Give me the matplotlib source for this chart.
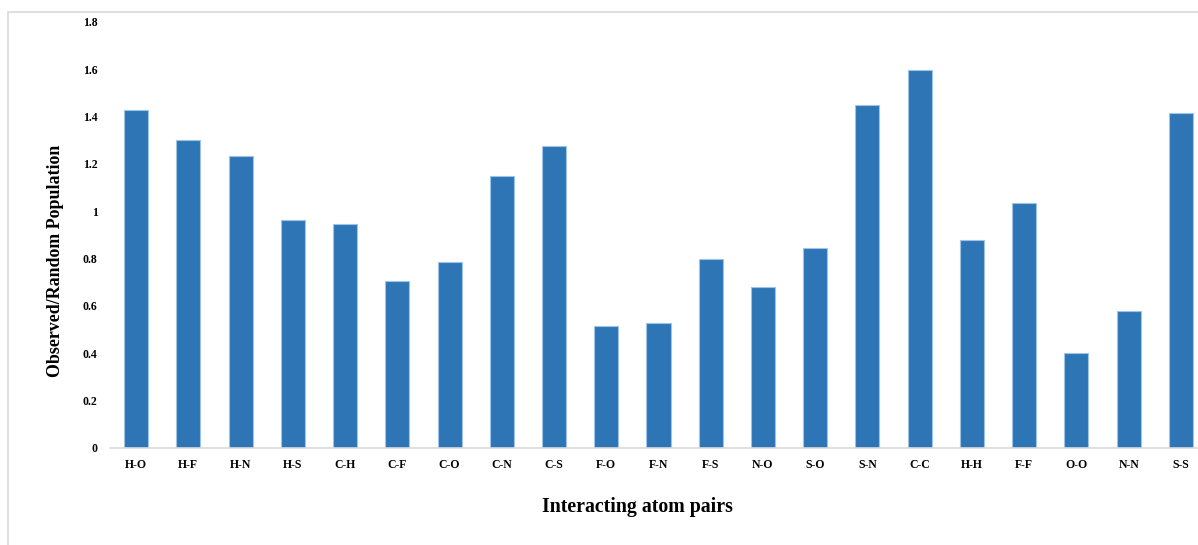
import matplotlib
matplotlib.use("Agg")
import matplotlib.pyplot as plt
from matplotlib.patches import Rectangle

pairs = ["H-O", "H-F", "H-N", "H-S", "C-H", "C-F", "C-O", "C-N", "C-S", "F-O", "F-N",
         "F-S", "N-O", "S-O", "S-N", "C-C", "H-H", "F-F", "O-O", "N-N", "S-S"]
ratios = [1.43, 1.30, 1.235, 0.965, 0.948, 0.706, 0.786, 1.15, 1.277, 0.517, 0.528,
          0.80, 0.682, 0.843, 1.45, 1.598, 0.88, 1.036, 0.403, 0.58, 1.416]
yticks = [0, 0.2, 0.4, 0.6, 0.8, 1, 1.2, 1.4, 1.6, 1.8]
ytick_labels = ["0", "0.2", "0.4", "0.6", "0.8", "1", "1.2", "1.4", "1.6", "1.8"]

plt.rcParams["font.family"] = ["Liberation Serif", "DejaVu Serif"]
plt.rcParams["font.weight"] = "bold"

W, H = 1198, 545
fig = plt.figure(figsize=(W / 100, H / 100), dpi=100)

# outer chart-area frame
fig.patches.append(Rectangle((8 / W, -0.1), 1.2, (H - 12) / H + 0.1,
                             transform=fig.transFigure, fill=False,
                             edgecolor="#d9d9d9", linewidth=1.2, zorder=0))

ax = fig.add_axes([110 / W, (H - 448) / H, 1097 / W, 426 / H])
x = range(len(pairs))
ax.bar(x, ratios, width=0.46, color="#2E75B6", edgecolor="#9DC3E6", linewidth=0.8)

ax.set_xlim(-0.5, len(pairs) - 0.5)
ax.set_ylim(0, 1.8)
ax.set_yticks(yticks)
ax.set_yticklabels(ytick_labels, fontsize=8.5, fontweight="bold")
ax.set_xticks(list(x))
ax.set_xticklabels(pairs, fontsize=8.5, fontweight="bold")
ax.tick_params(axis="both", length=0)
ax.tick_params(axis="y", pad=9)
ax.tick_params(axis="x", pad=8)

for s in ["left", "right", "top"]:
    ax.spines[s].set_visible(False)
ax.spines["bottom"].set_color("#d9d9d9")
ax.spines["bottom"].set_linewidth(1.2)

fig.text(56 / W, 1 - 261 / H, "Observed/Random Population", rotation=90,
         ha="center", va="center", fontsize=12.9, fontweight="bold")
fig.text(637 / W, 1 - 507 / H, "Interacting atom pairs",
         ha="center", va="center", fontsize=14.3, fontweight="bold")

fig.savefig("out.png", dpi=100, facecolor="white")
